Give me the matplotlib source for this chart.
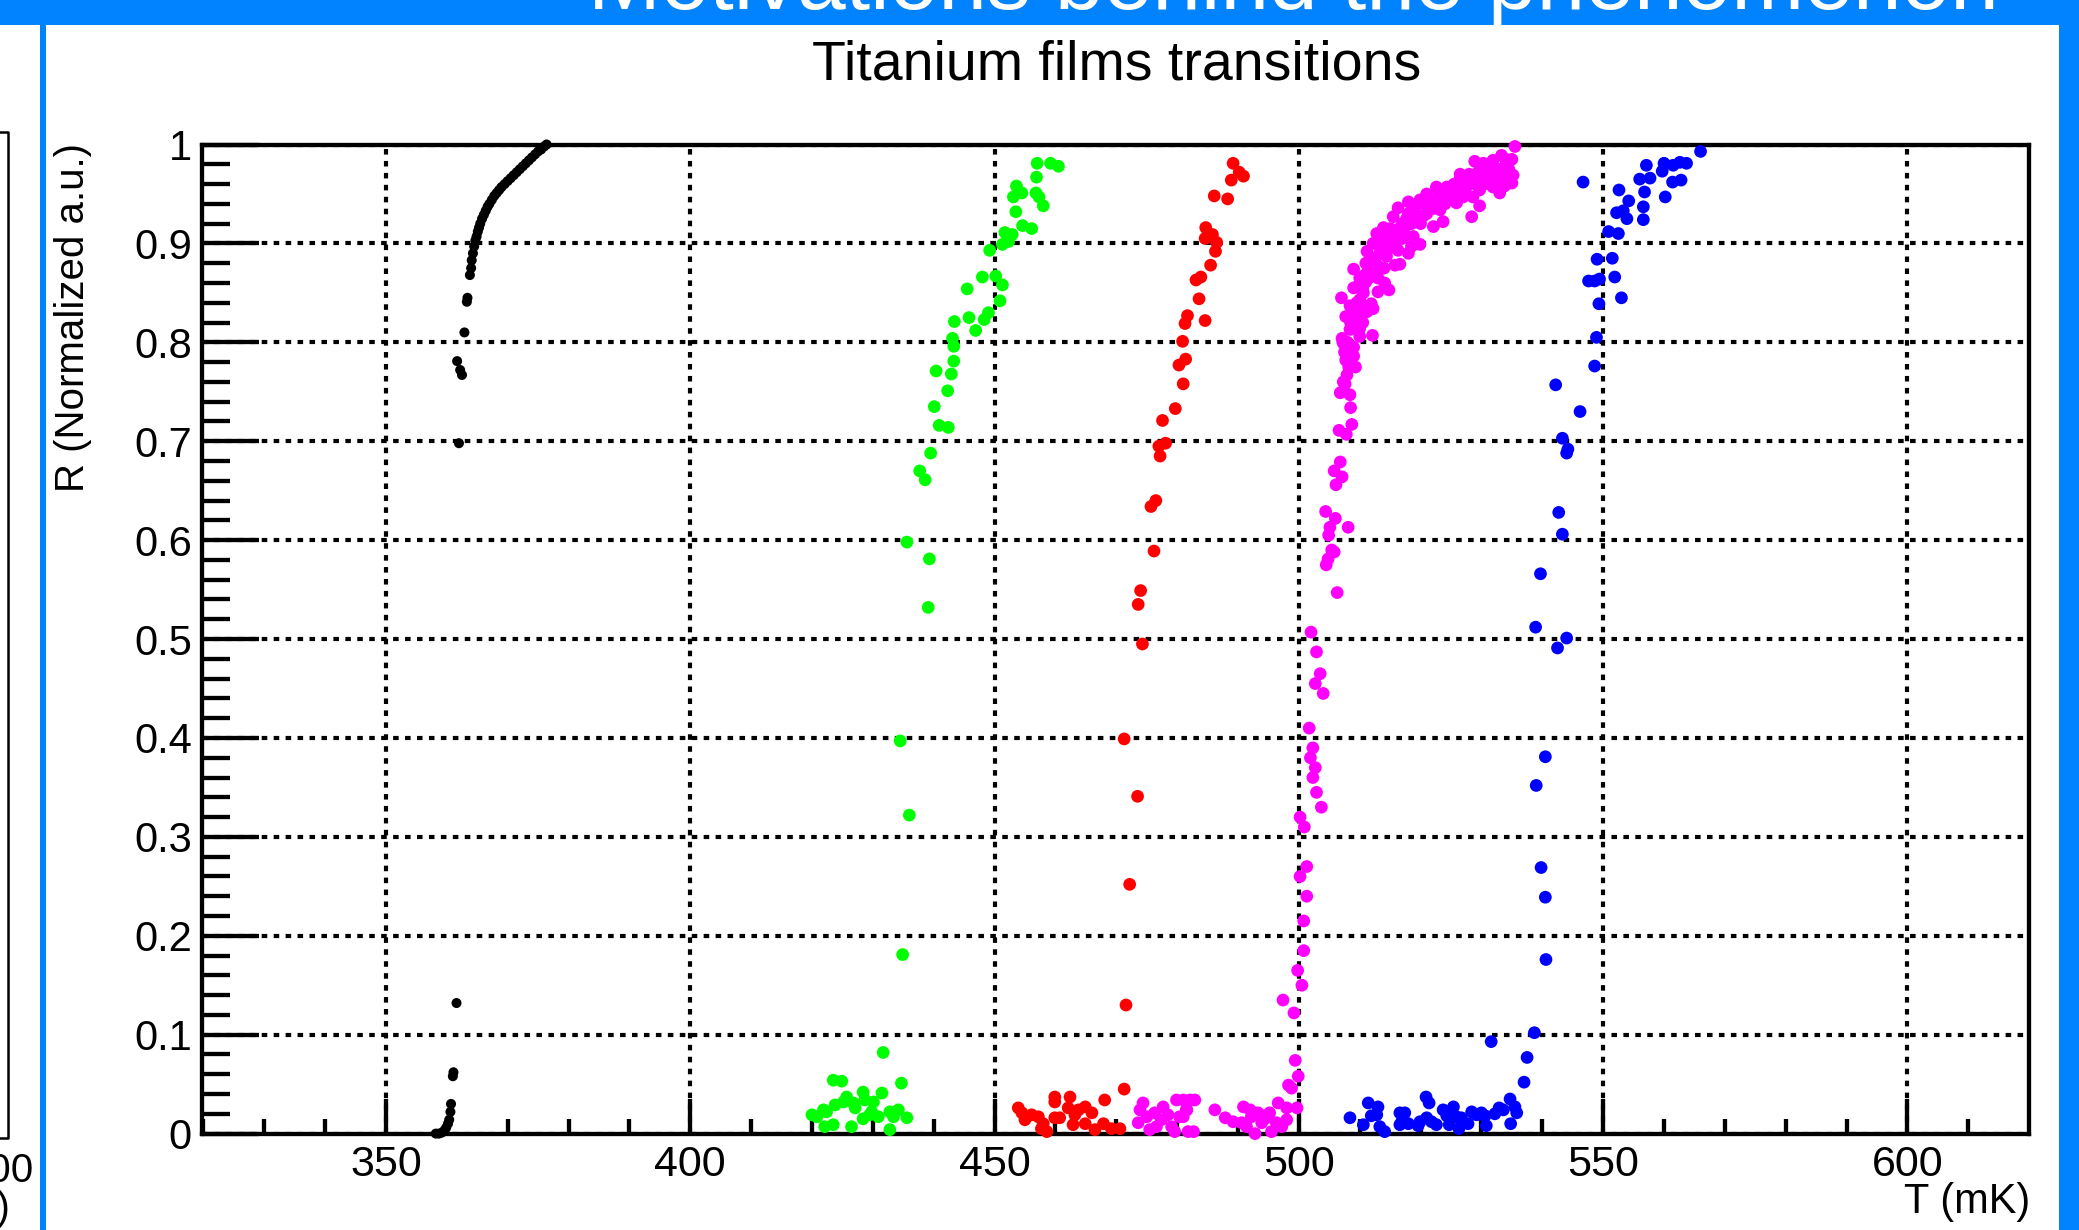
import matplotlib
matplotlib.use("Agg")
import matplotlib.pyplot as plt
from matplotlib.ticker import MultipleLocator, FuncFormatter
from matplotlib.patches import Rectangle
from matplotlib.lines import Line2D

plt.rcParams['font.family'] = ['Liberation Sans', 'DejaVu Sans']
plt.rcParams['lines.scale_dashes'] = False

# (T [mK], R normalized) for each film
black_pts = [
    (358.2, 0.000), (358.7, 0.000), (359.2, 0.001), (359.6, 0.003), (359.9, 0.006),
    (360.2, 0.010), (360.4, 0.014), (360.6, 0.022), (360.7, 0.030), (361.0, 0.058),
    (361.1, 0.062), (361.6, 0.132),
    (362.0, 0.698), (362.5, 0.767), (362.2, 0.772), (361.7, 0.781), (362.9, 0.810),
    (363.3, 0.841), (363.4, 0.845), (363.8, 0.868), (364.0, 0.875), (364.1, 0.883),
    (364.3, 0.890), (364.5, 0.897), (364.7, 0.903), (364.9, 0.907), (365.1, 0.912),
    (365.3, 0.916), (365.5, 0.920), (365.8, 0.925), (366.1, 0.929), (366.4, 0.933),
    (366.7, 0.937), (367.0, 0.940), (367.4, 0.944), (367.8, 0.948), (368.2, 0.951),
    (368.6, 0.954), (369.0, 0.957), (369.5, 0.960), (370.0, 0.963), (370.5, 0.966),
    (371.0, 0.969), (371.5, 0.972), (372.0, 0.975), (372.5, 0.978), (373.0, 0.981),
    (373.5, 0.984), (374.0, 0.987), (374.5, 0.990), (375.0, 0.993), (375.5, 0.995),
    (376.0, 0.998), (376.4, 1.000),
]

green_pts = [
    (420.0, 0.019), (420.8, 0.017), (421.9, 0.024), (422.1, 0.007), (422.4, 0.022),
    (423.5, 0.054), (424.9, 0.053), (423.5, 0.009), (423.8, 0.029), (425.2, 0.032),
    (425.7, 0.037), (426.5, 0.007), (426.8, 0.031), (427.1, 0.026), (428.4, 0.042),
    (428.7, 0.034), (428.4, 0.015), (429.5, 0.019), (429.8, 0.022), (430.1, 0.032),
    (430.9, 0.017), (431.5, 0.041), (431.7, 0.082), (432.8, 0.022), (433.4, 0.017),
    (432.8, 0.004), (434.7, 0.051), (434.2, 0.024), (435.6, 0.016),
    (434.9, 0.181), (436.0, 0.322), (434.5, 0.397), (439.1, 0.532),
    (435.6, 0.598), (439.3, 0.581), (437.7, 0.670), (438.6, 0.661), (439.5, 0.688),
    (440.9, 0.716), (442.4, 0.714), (440.1, 0.735), (442.3, 0.751), (440.4, 0.771),
    (442.9, 0.768), (443.3, 0.781), (443.3, 0.796), (443.1, 0.804), (443.4, 0.821),
    (446.9, 0.812), (445.8, 0.825), (448.3, 0.823), (449.0, 0.830), (450.9, 0.842),
    (445.5, 0.854), (451.3, 0.858), (448.0, 0.866), (450.2, 0.867), (449.2, 0.893),
    (451.3, 0.899), (452.3, 0.902), (451.7, 0.911), (452.9, 0.909), (454.6, 0.918),
    (456.1, 0.915), (453.5, 0.932), (458.0, 0.938), (453.1, 0.947), (454.5, 0.951),
    (456.8, 0.951), (457.3, 0.947), (453.6, 0.958), (456.9, 0.967), (457.0, 0.981),
    (459.2, 0.981), (460.5, 0.978),
]

red_pts = [
    (453.9, 0.026), (454.5, 0.021), (455.3, 0.017), (455.0, 0.014), (456.1, 0.019),
    (457.2, 0.017), (457.7, 0.005), (458.0, 0.010), (458.6, 0.002), (459.9, 0.016),
    (460.7, 0.016), (459.9, 0.037), (459.9, 0.032), (462.4, 0.037), (462.1, 0.026),
    (463.2, 0.019), (462.9, 0.009), (463.8, 0.024), (464.9, 0.027), (464.9, 0.010),
    (466.0, 0.021), (466.5, 0.004), (468.1, 0.034), (467.9, 0.010), (469.2, 0.005),
    (470.6, 0.005), (471.3, 0.045), (471.6, 0.130),
    (472.2, 0.252), (473.5, 0.341), (471.3, 0.399), (474.3, 0.495), (473.6, 0.535),
    (474.0, 0.549), (476.2, 0.589), (475.7, 0.634), (476.5, 0.640), (477.2, 0.685),
    (477.0, 0.695), (478.1, 0.698), (477.6, 0.721), (479.7, 0.733), (481.0, 0.758),
    (480.3, 0.777), (481.4, 0.783), (480.9, 0.801), (481.3, 0.819), (484.6, 0.822),
    (481.7, 0.827), (483.6, 0.844), (483.1, 0.863), (483.9, 0.866), (485.5, 0.878),
    (486.3, 0.892), (486.5, 0.901), (484.6, 0.905), (485.8, 0.909), (484.7, 0.916),
    (488.3, 0.945), (486.1, 0.948), (488.9, 0.964), (490.9, 0.968), (490.2, 0.972),
    (489.2, 0.981),
]

magenta_pts = [
    # superconducting plateau
    (473.9, 0.024), (474.4, 0.031), (473.6, 0.011), (475.0, 0.017), (475.5, 0.004),
    (476.3, 0.021), (476.6, 0.007), (477.4, 0.014), (477.7, 0.027), (478.5, 0.019),
    (479.1, 0.007), (479.9, 0.034), (480.4, 0.017), (481.0, 0.034), (481.5, 0.024),
    (479.6, 0.002), (481.8, 0.002), (482.1, 0.034), (482.9, 0.034), (481.6, 0.024),
    (481.0, 0.017), (482.7, 0.002), (486.2, 0.024), (487.9, 0.016), (489.2, 0.012),
    (490.9, 0.027), (492.0, 0.024), (490.6, 0.011), (491.4, 0.007), (492.2, 0.017),
    (492.8, 0.000), (493.3, 0.021), (493.9, 0.011), (494.7, 0.016), (495.2, 0.021),
    (495.5, 0.002), (496.6, 0.031), (496.3, 0.011), (498.0, 0.026), (498.0, 0.014),
    (497.2, 0.007), (498.3, 0.049), (498.8, 0.046), (499.4, 0.074), (499.9, 0.058),
    (499.7, 0.026), (499.2, 0.122), (497.4, 0.135),
    # steep part
    (500.5, 0.150), (499.8, 0.165), (500.8, 0.185), (500.8, 0.215), (501.3, 0.240),
    (500.2, 0.260), (501.3, 0.270), (500.9, 0.310), (500.2, 0.320), (503.7, 0.330),
    (502.9, 0.345), (502.3, 0.360), (502.7, 0.370), (501.9, 0.380), (502.3, 0.390),
    (501.7, 0.410), (504.0, 0.445), (502.7, 0.455), (503.5, 0.465), (502.9, 0.487),
    (502.0, 0.507), (506.3, 0.547), (504.5, 0.575), (504.8, 0.581), (505.8, 0.588),
    (505.4, 0.590), (504.9, 0.605), (505.1, 0.613), (508.1, 0.613), (506.0, 0.622),
    (504.4, 0.629), (506.1, 0.656), (507.1, 0.664), (505.8, 0.670), (506.8, 0.679),
    # upper knee
    (506.6, 0.711), (507.8, 0.707), (508.7, 0.717), (508.5, 0.734), (506.8, 0.749),
    (508.4, 0.747), (507.6, 0.758), (507.9, 0.767), (509.3, 0.775), (509.0, 0.786),
    (507.7, 0.782), (507.3, 0.799), (507.1, 0.804), (510.0, 0.806), (512.1, 0.807),
    (508.4, 0.813), (510.0, 0.814), (507.7, 0.826), (509.6, 0.827), (511.2, 0.831),
    (512.2, 0.834), (511.9, 0.839), (508.4, 0.837), (510.0, 0.843), (507.0, 0.845),
    (509.5, 0.856), (510.6, 0.850), (511.0, 0.861), (513.0, 0.851), (514.8, 0.853),
    (514.1, 0.860), (509.0, 0.874), (510.8, 0.868), (511.4, 0.873), (512.8, 0.870),
    (513.3, 0.876), (512.5, 0.883), (511.2, 0.892), (512.2, 0.900), (513.3, 0.890),
    (514.4, 0.887), (515.8, 0.878), (516.6, 0.879), (515.0, 0.897), (515.8, 0.899),
    (516.3, 0.893), (518.0, 0.890), (518.5, 0.897), (519.9, 0.899), (512.8, 0.910),
    (513.9, 0.916), (515.0, 0.907), (516.0, 0.912), (517.4, 0.910), (518.8, 0.907),
    (515.5, 0.927), (516.3, 0.936), (518.0, 0.942), (519.9, 0.944), (517.7, 0.925),
    (519.3, 0.927), (521.0, 0.930), (522.1, 0.917), (523.7, 0.922), (521.5, 0.941),
    (522.6, 0.944), (523.2, 0.934), (524.5, 0.947), (525.3, 0.944), (524.3, 0.957),
    (526.4, 0.964), (525.9, 0.954), (527.5, 0.957), (527.0, 0.947), (528.4, 0.927),
    (529.7, 0.938), (528.6, 0.947), (529.7, 0.954), (529.2, 0.967), (530.8, 0.964),
    (531.9, 0.957), (533.0, 0.951), (528.9, 0.983), (530.3, 0.981), (531.9, 0.984),
    (533.3, 0.989), (534.1, 0.981), (535.2, 0.969), (535.0, 0.961), (535.5, 0.998),
    (532.5, 0.974), (530.8, 0.974), (527.5, 0.967), (525.9, 0.941), (522.6, 0.957),
    (514.0, 0.905), (515.0, 0.915), (517.0, 0.920), (518.0, 0.930), (519.0, 0.935),
    (520.0, 0.920), (520.5, 0.940), (521.0, 0.950), (522.0, 0.935), (523.0, 0.950),
    (524.0, 0.940), (525.0, 0.955), (526.0, 0.950), (526.5, 0.970), (527.0, 0.960),
    (528.0, 0.970), (529.0, 0.960), (530.0, 0.970), (531.0, 0.965), (531.0, 0.980),
    (532.0, 0.970), (533.0, 0.975), (534.0, 0.985), (534.0, 0.965), (511.0, 0.880),
    (510.0, 0.865), (509.0, 0.855), (508.5, 0.820), (509.0, 0.795), (510.5, 0.820),
    (513.0, 0.865), (514.0, 0.875), (516.0, 0.900), (517.0, 0.905),
    (513.5, 0.895), (514.5, 0.893), (516.5, 0.915), (517.5, 0.918), (518.5, 0.920),
    (519.5, 0.925), (520.5, 0.928), (521.5, 0.935), (522.5, 0.940), (523.5, 0.945),
    (524.5, 0.952), (525.5, 0.960), (526.5, 0.955), (527.5, 0.962), (528.5, 0.965),
    (529.5, 0.972), (530.5, 0.960), (531.5, 0.975), (532.5, 0.960), (533.5, 0.970),
    (534.5, 0.975), (535.0, 0.985), (533.8, 0.958), (512.0, 0.885), (511.5, 0.865),
    (510.5, 0.855), (509.5, 0.840), (508.8, 0.830), (510.2, 0.835), (508.0, 0.800),
    (507.5, 0.790), (508.2, 0.775), (507.3, 0.760),
]

blue_pts = [
    (508.4, 0.016), (510.6, 0.009), (511.4, 0.031), (513.0, 0.027), (511.9, 0.018),
    (512.8, 0.019), (513.3, 0.007), (514.1, 0.002), (516.6, 0.021), (517.4, 0.021),
    (516.9, 0.012), (516.6, 0.009), (518.0, 0.010), (519.6, 0.008), (519.9, 0.012),
    (520.9, 0.037), (521.4, 0.031), (521.0, 0.016), (521.8, 0.012), (522.6, 0.009),
    (523.7, 0.024), (524.3, 0.018), (524.7, 0.009), (525.4, 0.027), (525.9, 0.017),
    (526.3, 0.005), (526.7, 0.016), (527.8, 0.010), (528.4, 0.022), (529.2, 0.019),
    (530.0, 0.021), (530.6, 0.018), (530.8, 0.008), (532.2, 0.020), (532.9, 0.026),
    (533.6, 0.024), (534.7, 0.035), (535.5, 0.027), (535.8, 0.021), (534.8, 0.010),
    (531.6, 0.093), (537.0, 0.052), (537.5, 0.077), (538.7, 0.102),
    (540.6, 0.176), (540.5, 0.239), (539.8, 0.269), (539.0, 0.352), (540.5, 0.381),
    (542.5, 0.491), (544.0, 0.501), (538.9, 0.512), (539.7, 0.566), (543.3, 0.606),
    (542.7, 0.628), (544.0, 0.688), (544.2, 0.692), (543.3, 0.703), (546.2, 0.730),
    (542.2, 0.757), (548.6, 0.776), (548.9, 0.805), (549.3, 0.839), (553.0, 0.845),
    (547.6, 0.862), (548.6, 0.862), (549.4, 0.864), (551.9, 0.866), (549.0, 0.884),
    (551.5, 0.885), (552.5, 0.910), (550.9, 0.912), (556.6, 0.924), (553.9, 0.925),
    (552.2, 0.931), (553.3, 0.933), (556.6, 0.937), (554.2, 0.943), (560.2, 0.947),
    (556.8, 0.952), (552.6, 0.954), (546.7, 0.962), (561.4, 0.962), (562.8, 0.964),
    (556.0, 0.965), (557.7, 0.966), (559.7, 0.973), (557.1, 0.979), (561.5, 0.979),
    (560.0, 0.981), (563.7, 0.981), (562.6, 0.982), (566.0, 0.993),
]

series = [
    (black_pts, 'black', 52),
    (green_pts, '#00ff00', 84),
    (red_pts, '#ff0000', 84),
    (magenta_pts, '#ff00ff', 84),
    (blue_pts, '#0000ff', 84),
]

W, H = 2079, 1230
fig = plt.figure(figsize=(W / 100, H / 100), dpi=100)
fig.patch.set_facecolor('white')

# slide frame around the canvas
slide_blue = '#0182fe'
fig.patches.append(Rectangle((0, 1 - 25 / H), 1, 25 / H, transform=fig.transFigure,
                             facecolor=slide_blue, edgecolor='none', zorder=0))
fig.patches.append(Rectangle((1 - 20 / W, 0), 20 / W, 1, transform=fig.transFigure,
                             facecolor=slide_blue, edgecolor='none', zorder=0))
fig.patches.append(Rectangle((40 / W, 0), 6 / W, 1, transform=fig.transFigure,
                             facecolor=slide_blue, edgecolor='none', zorder=0))
fig.text(588 / W, 1 - 9 / H, 'Motivations behind the phenomenon', color='white',
         fontsize=63, ha='left', va='baseline')

# edge of the neighbouring plot on the slide
fig.lines.append(Line2D([0, 8 / W, 8 / W, 0], [1 - 132 / H, 1 - 132 / H, 1 - 1138 / H, 1 - 1138 / H],
                        transform=fig.transFigure, color='black', linewidth=1.8))
fig.text(33 / W, 1 - 1182 / H, '400', fontsize=29, ha='right', va='baseline')
fig.text(10 / W, 1 - 1220 / H, 'T (mK)', fontsize=29, ha='right', va='baseline')

ax = fig.add_axes([201.5 / W, 1 - 1133.6 / H, (2028.6 - 201.5) / W, (1133.6 - 144.5) / H])
ax.set_xlim(319.7, 619.9)
ax.set_ylim(0, 1)

for pts, color, size in series:
    t = [p[0] for p in pts]
    r = [p[1] for p in pts]
    ax.scatter(t, r, s=size, color=color, edgecolors='none', zorder=3, clip_on=False)

ax.xaxis.set_major_locator(MultipleLocator(50))
ax.xaxis.set_minor_locator(MultipleLocator(10))
ax.yaxis.set_major_locator(MultipleLocator(0.1))
ax.yaxis.set_minor_locator(MultipleLocator(0.02))
ax.yaxis.set_major_formatter(FuncFormatter(
    lambda v, _: f'{int(round(v))}' if round(v, 3) in (0, 1) else f'{v:.1f}'))

ax.tick_params(axis='x', which='major', direction='in', length=25, width=3.1, labelsize=31, pad=8,
               top=False)
ax.tick_params(axis='x', which='minor', direction='in', length=10.8, width=3.1, top=False)
ax.tick_params(axis='y', which='major', direction='in', length=41, width=3.1, labelsize=30, pad=7,
               right=False)
ax.tick_params(axis='y', which='minor', direction='in', length=20, width=3.1, right=False)

for sp in ax.spines.values():
    sp.set_linewidth(3.1)

ax.set_axisbelow(True)
ax.grid(True, which='major', color='black', linestyle=(0, (4.0, 4.6)), linewidth=3.0)

fig.text(1117 / W, 1 - 66 / H, 'Titanium films transitions', fontsize=40, ha='center', va='center')
fig.text(2030 / W, 1 - 1213 / H, 'T (mK)', fontsize=30, ha='right', va='baseline')
fig.text(73 / W, 1 - 143 / H, 'R (Normalized a.u.)', fontsize=29, rotation=90, ha='center', va='top')

fig.savefig('out.png', dpi=100)
